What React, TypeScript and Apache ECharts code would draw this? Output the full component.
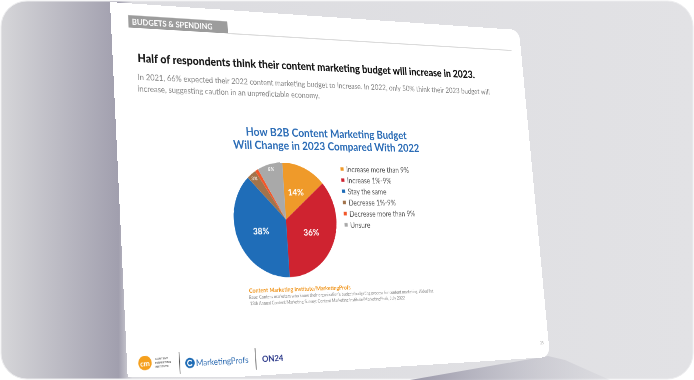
import React, { useEffect, useRef } from 'react';
import * as echarts from 'echarts';

// ---------------- data ----------------
const categories = [
  'Increase more than 9%',
  'Increase 1%-9%',
  'Stay the same',
  'Decrease 1%-9%',
  'Decrease more than 9%',
  'Unsure',
];
const values = [14, 36, 38, 3, 1, 8];
const sliceColors = ['#ef9a2a', '#cf2330', '#1f6db8', '#a2734b', '#f2572a', '#a9a9a9'];
const chartTitle = ['How B2B Content Marketing Budget', 'Will Change in 2023 Compared With 2022'];
const sectionTag = 'BUDGETS & SPENDING';
const headline = 'Half of respondents think their content marketing budget will increase in 2023.';
const summaryLines = [
  'In 2021, 66% expected their 2022 content marketing budget to increase. In 2022, only 50% think their 2023 budget will',
  'increase, suggesting caution in an unpredictable economy.',
];
const sourceTitle = 'Content Marketing Institute/MarketingProfs';
const sourceLines = [
  "Base: Content marketers who know their organization's budget/budgeting process for content marketing. Aided list.",
  '13th Annual Content Marketing Survey: Content Marketing Institute/MarketingProfs, July 2022',
];
const pageNumber = '35';

// ---------------- perspective of the page ----------------
const PW = 800;
const PH = 600;
const QUAD = [
  [110, 2],
  [519, 30],
  [550, 357],
  [128, 384],
];
const FONT = 'Lato, "Open Sans", sans-serif';

function homography(q: number[][]) {
  const [[x0, y0], [x1, y1], [x2, y2], [x3, y3]] = q;
  const dx1 = x1 - x2, dx2 = x3 - x2, dx3 = x0 - x1 + x2 - x3;
  const dy1 = y1 - y2, dy2 = y3 - y2, dy3 = y0 - y1 + y2 - y3;
  const den = dx1 * dy2 - dx2 * dy1;
  const g = (dx3 * dy2 - dx2 * dy3) / den;
  const h = (dx1 * dy3 - dx3 * dy1) / den;
  const a = x1 - x0 + g * x1, b = x3 - x0 + h * x3, c = x0;
  const d = y1 - y0 + g * y1, e = y3 - y0 + h * y3, f = y0;
  return [
    [a / PW, b / PH, c],
    [d / PW, e / PH, f],
    [g / PW, h / PH, 1],
  ];
}
function inv3(m: number[][]) {
  const [[a, b, c], [d, e, f], [g, h, i]] = m;
  const A = e * i - f * h, B = -(d * i - f * g), C = d * h - e * g;
  const D = -(b * i - c * h), E = a * i - c * g, F = -(a * h - b * g);
  const G = b * f - c * e, Hh = -(a * f - c * d), I = a * e - b * d;
  const det = a * A + b * B + c * C;
  return [
    [A / det, D / det, G / det],
    [B / det, E / det, Hh / det],
    [C / det, F / det, I / det],
  ];
}
const M = homography(QUAD);
const MI = inv3(M);
function toPage(x: number, y: number): number[] {
  const r0 = MI[0][0] * x + MI[0][1] * y + MI[0][2];
  const r1 = MI[1][0] * x + MI[1][1] * y + MI[1][2];
  const r2 = MI[2][0] * x + MI[2][1] * y + MI[2][2];
  return [r0 / r2, r1 / r2];
}
const cssMatrix = `matrix3d(${M[0][0]},${M[1][0]},0,${M[2][0]},${M[0][1]},${M[1][1]},0,${M[2][1]},0,0,1,0,${M[0][2]},${M[1][2]},0,1)`;

function txt(p: number[], text: string, size: number, fill: string, weight: any = 'normal', align = 'left') {
  return {
    type: 'text',
    x: p[0],
    y: p[1],
    style: { text, fill, fontSize: size, fontWeight: weight, fontFamily: FONT, align, verticalAlign: 'middle' },
  };
}

function buildPageOption() {
  const [cx, cy] = toPage(286, 219.5);
  const t = toPage(286, 162), b = toPage(286, 277), l = toPage(235, 219.5), r = toPage(337, 219.5);
  const R = (Math.hypot(b[0] - t[0], b[1] - t[1]) + Math.hypot(r[0] - l[0], r[1] - l[1])) / 4;

  const tag1 = toPage(128, 15), tag2 = toPage(228, 33.5);
  const ln1 = toPage(228, 33.5), ln2 = toPage(512, 55.5);
  const titlePos = toPage(328, 126.5);
  const leg = toPage(342, 169);
  const d1a = toPage(179, 352), d1b = toPage(179, 374);
  const d2a = toPage(255, 348), d2b = toPage(255, 370);
  const cmi = toPage(145, 363);
  const mp = toPage(190, 363);

  const graphic: any[] = [
    { type: 'rect', z: -10, shape: { x: 0, y: 0, width: PW, height: PH, r: [0, 18, 18, 0] }, style: { fill: '#ffffff' } },
    {
      type: 'rect',
      shape: { x: tag1[0], y: tag1[1], width: tag2[0] - tag1[0], height: tag2[1] - tag1[1] },
      style: { fill: '#9c9c9c' },
    },
    txt([tag1[0] + 6, (tag1[1] + tag2[1]) / 2], sectionTag, 13, '#ffffff', 'bold'),
    { type: 'line', shape: { x1: ln1[0], y1: ln1[1], x2: ln2[0], y2: ln1[1] }, style: { stroke: '#cfcfcf', lineWidth: 1.5 } },
    txt(toPage(137.5, 57.5), headline, 18.5, '#161616', 900),
    txt(toPage(137.5, 77), summaryLines[0], 13, '#858585'),
    txt(toPage(137.5, 88.5), summaryLines[1], 13, '#858585'),
    txt(toPage(249, 290.5), sourceTitle, 9.5, '#f0961e', 'bold'),
    txt(toPage(249, 297.5), sourceLines[0], 7, '#8a8a8a'),
    txt(toPage(250, 303.5), sourceLines[1], 7, '#8a8a8a'),
    // footer logos
    { type: 'circle', shape: { cx: cmi[0], cy: cmi[1], r: 11 }, style: { fill: '#f5a01e' } },
    txt([cmi[0], cmi[1] + 1], 'cm', 12, '#ffffff', 'bold', 'center'),
    txt(toPage(155, 359), 'CONTENT', 4.5, '#666', 'bold'),
    txt(toPage(155, 363), 'MARKETING', 4.5, '#666', 'bold'),
    txt(toPage(155, 367), 'INSTITUTE', 4.5, '#666', 'bold'),
    { type: 'line', shape: { x1: d1a[0], y1: d1a[1], x2: d1a[0], y2: d1b[1] }, style: { stroke: '#555', lineWidth: 1.2 } },
    { type: 'circle', shape: { cx: mp[0], cy: mp[1], r: 8 }, style: { fill: '#1f6cb5' } },
    { type: 'arc', shape: { cx: mp[0], cy: mp[1], r: 4, startAngle: 0.6, endAngle: 5.6 }, style: { stroke: '#ffffff', lineWidth: 2, fill: 'none' } },
    txt(toPage(196, 363), 'MarketingProfs', 13.5, '#2e6cb2'),
    { type: 'line', shape: { x1: d2a[0], y1: d2a[1], x2: d2a[0], y2: d2b[1] }, style: { stroke: '#555', lineWidth: 1.2 } },
    txt(toPage(262, 359), 'ON24', 14, '#2f3c8c', 'bold'),
    txt(toPage(540, 343), pageNumber, 7, '#b0b0b0'),
  ];

  return {
    animation: false,
    title: {
      text: chartTitle.join('\n'),
      left: titlePos[0],
      top: titlePos[1],
      textAlign: 'center',
      padding: 0,
      textStyle: { fontSize: 19, fontWeight: 'bold', color: '#2b6cb6', lineHeight: 22, fontFamily: FONT },
    },
    legend: {
      orient: 'vertical',
      left: leg[0] - 3,
      top: leg[1] - 6.5,
      padding: 0,
      data: categories.map((n, i) => ({ name: n, itemStyle: { color: sliceColors[i] } })),
      icon: 'rect',
      itemWidth: 6,
      itemHeight: 6,
      itemGap: 6,
      selectedMode: false,
      textStyle: { fontSize: 12.5, color: '#5a5a5a', fontFamily: FONT, lineHeight: 13 },
    },
    graphic,
    series: [
      {
        type: 'pie',
        center: [cx, cy],
        radius: [0, R],
        startAngle: 90,
        clockwise: true,
        data: categories.map((n, i) => ({ name: n, value: values[i], itemStyle: { color: sliceColors[i] } })),
        label: {
          show: true,
          position: 'inside',
          formatter: (p: any) => (p.value >= 10 ? p.value + '%' : ''),
          color: '#ffffff',
          fontWeight: 'bold',
          fontSize: 15,
          fontFamily: FONT,
        },
        labelLine: { show: false },
        emphasis: { disabled: true },
      },
      {
        type: 'pie',
        center: [cx, cy],
        radius: [R * 0.76, R],
        startAngle: 90,
        clockwise: true,
        silent: true,
        legendHoverLink: false,
        data: categories.map((n, i) => ({ name: n + ' ', value: values[i], itemStyle: { color: 'rgba(0,0,0,0)' } })),
        label: {
          show: true,
          position: 'inside',
          formatter: (p: any) => (p.value < 10 ? p.value + '%' : ''),
          color: '#ffffff',
          fontWeight: 'bold',
          fontSize: 8,
          fontFamily: FONT,
        },
        labelLine: { show: false },
        emphasis: { disabled: true },
      },
    ],
  };
}

function buildBgOption() {
  return {
    animation: false,
    graphic: [
      {
        type: 'rect',
        shape: { x: 1, y: 1, width: 692, height: 378, r: 26 },
        style: {
          fill: {
            type: 'linear',
            x: 0, y: 0, x2: 1, y2: 0,
            colorStops: [
              { offset: 0, color: '#d6d6d9' },
              { offset: 0.17, color: '#a19fae' },
              { offset: 0.19, color: '#dcdce0' },
              { offset: 1, color: '#e2e2e5' },
            ],
          },
          stroke: '#ececee',
          lineWidth: 1,
        },
      },
      {
        type: 'polygon',
        shape: { points: [[410, 380], [548, 356], [565, 360], [610, 380]] },
        style: {
          fill: {
            type: 'linear',
            x: 0, y: 0, x2: 1, y2: 0,
            colorStops: [
              { offset: 0, color: 'rgba(150,148,166,0.95)' },
              { offset: 1, color: 'rgba(205,205,212,0.3)' },
            ],
          },
        },
      },
    ],
  };
}

export default function App() {
  const bgRef = useRef<HTMLDivElement>(null);
  const pageRef = useRef<HTMLDivElement>(null);
  useEffect(() => {
    const bg = echarts.init(bgRef.current!, null, { renderer: 'svg', width: 694, height: 380 });
    bg.setOption(buildBgOption() as any);
    const pg = echarts.init(pageRef.current!, null, { renderer: 'svg', width: PW, height: PH });
    pg.setOption(buildPageOption() as any);
    return () => {
      bg.dispose();
      pg.dispose();
    };
  }, []);
  return (
    <div style={{ position: 'fixed', left: 0, top: 0, width: 694, height: 380, overflow: 'hidden', background: '#ffffff' }}>
      <div ref={bgRef} style={{ position: 'absolute', left: 0, top: 0, width: 694, height: 380 }} />
      <div style={{ position: 'absolute', left: 0, top: 0, width: 694, height: 377, overflow: 'hidden' }}>
        <div
          ref={pageRef}
          style={{
            position: 'absolute',
            left: 0,
            top: 0,
            width: PW,
            height: PH,
            transformOrigin: '0 0',
            transform: cssMatrix,
          }}
        />
      </div>
    </div>
  );
}
